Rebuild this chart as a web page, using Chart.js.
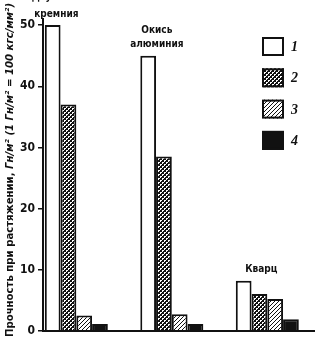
<!DOCTYPE html>
<html><head><meta charset="utf-8">
<script src="https://cdn.jsdelivr.net/npm/chart.js@4/dist/chart.umd.min.js"></script>
<style>html,body{margin:0;padding:0;background:#fff;overflow:hidden}</style>
</head><body>
<canvas id="c" width="315" height="341" style="width:315px;height:341px;display:block"></canvas>
<script>
// ---- data ----
const groupNames = [['Двуокись', 'кремния'], ['Окись', 'алюминия'], ['Кварц']];
const groupPositions = [0, 1, 2];
const seriesLabels = ['1', '2', '3', '4'];
const series1 = [50, 45, 8.2];
const series2 = [37, 28.5, 6.0];
const series3 = [2.5, 2.7, 5.2];
const series4 = [1.1, 1.1, 1.9];
const yTicks = [0, 10, 20, 30, 40, 50];
const yTitleMain = 'Прочность при растяжении, ';
const yTitleUnit = 'Гн/м² (1 Гн/м² = 100 кгс/мм²)';

// ---- patterns ----
function makePattern(size, bg, fg, test) {
  const c = document.createElement('canvas');
  c.width = size; c.height = size;
  const g = c.getContext('2d');
  g.fillStyle = bg; g.fillRect(0, 0, size, size);
  g.fillStyle = fg;
  for (let x = 0; x < size; x++) for (let y = 0; y < size; y++) if (test(x, y)) g.fillRect(x, y, 1, 1);
  return g.createPattern(c, 'repeat');
}
const ctx = document.getElementById('c').getContext('2d');
const pat2 = makePattern(4, '#111', '#fff', (x, y) => ((x < 2 && y < 2 && !(x === 1 && y === 1)) || (x >= 2 && y >= 2 && !(x === 3 && y === 3))));
const pat3 = makePattern(4, '#fff', '#111', (x, y) => (x + y) % 4 === 3);
const fills = ['#fff', pat2, pat3, '#111'];
const allSeries = [series1, series2, series3, series4];

const FONT = '"Liberation Sans Narrow", "DejaVu Sans Condensed", Roboto, sans-serif';

const datasets = allSeries.map((s, i) => ({
  label: seriesLabels[i],
  data: s.map((v, j) => ({ x: groupPositions[j], y: v })),
  backgroundColor: fills[i],
  borderColor: '#111',
  borderWidth: 2,
  categoryPercentage: 0.66,
  barPercentage: 1.0
}));

const decor = {
  id: 'decor',
  afterDraw(chart) {
    const c = chart.ctx;
    const xs = chart.scales.x, ys = chart.scales.y;
    c.save();
    c.fillStyle = '#111';
    // group labels
    const offs = [-20, -15, -6];
    const gaps = [17, 14, 14];
    c.font = 'bold 10px ' + FONT;
    c.textAlign = 'center';
    c.textBaseline = 'middle';
    groupNames.forEach((lines, i) => {
      const cx = xs.getPixelForValue(groupPositions[i]) + offs[i];
      const top = ys.getPixelForValue(series1[i]);
      lines.forEach((t, k) => {
        const y = top - 11 - (lines.length - 1 - k) * gaps[i];
        c.fillText(t, cx, y);
      });
    });
    // legend
    const lx = 262, ly = 37, step = 31.3, bw = 22, bh = 19;
    seriesLabels.forEach((lab, i) => {
      const y = ly + i * step;
      c.fillStyle = fills[i];
      c.fillRect(lx, y, bw, bh);
      c.lineWidth = 2;
      c.strokeStyle = '#111';
      c.strokeRect(lx + 1, y + 1, bw - 2, bh - 2);
      c.fillStyle = '#111';
      c.font = 'italic bold 14px "Liberation Serif", serif';
      c.textAlign = 'left';
      c.fillText(lab, lx + 29, y + bh / 2 + 1);
    });
    // y title
    c.save();
    c.translate(12.5, 170);
    c.rotate(-Math.PI / 2);
    c.textBaseline = 'alphabetic';
    c.textAlign = 'left';
    const f1 = 'bold 10px ' + FONT, f2 = 'italic bold 10px ' + FONT;
    c.font = f1; const w1 = c.measureText(yTitleMain).width;
    c.font = f2; const w2 = c.measureText(yTitleUnit).width;
    const target = 334;
    const sx = target / (w1 + w2);
    c.scale(sx, 1);
    const start = -(w1 + w2) / 2;
    c.font = f1; c.fillText(yTitleMain, start, 0);
    c.font = f2; c.fillText(yTitleUnit, start + w1, 0);
    c.restore();
    c.restore();
  }
};

new Chart(ctx, {
  type: 'bar',
  data: { datasets },
  plugins: [decor],
  options: {
    responsive: false,
    animation: false,
    devicePixelRatio: 1,
    layout: { padding: { top: 19, bottom: 3, left: 0, right: 0 } },
    plugins: { legend: { display: false }, tooltip: { enabled: false } },
    scales: {
      x: {
        type: 'linear',
        offset: false,
        min: -0.349, max: 2.4995,
        afterBuildTicks(s) { s.ticks = groupPositions.map(v => ({ value: v })); },
        ticks: { display: false },
        grid: { display: false, drawTicks: false },
        border: { display: true, color: '#111', width: 2 }
      },
      y: {
        min: 0, max: 51,
        afterFit(s) { s.width = 43; },
        afterBuildTicks(s) { s.ticks = yTicks.map(v => ({ value: v })); },
        ticks: { color: '#111', padding: 3, font: { family: FONT, size: 12, weight: 'bold' } },
        grid: { display: true, drawOnChartArea: false, drawTicks: true, tickLength: 5, color: '#111', lineWidth: 1.5 },
        border: { display: true, color: '#111', width: 2 }
      }
    }
  }
});
</script>
</body></html>
